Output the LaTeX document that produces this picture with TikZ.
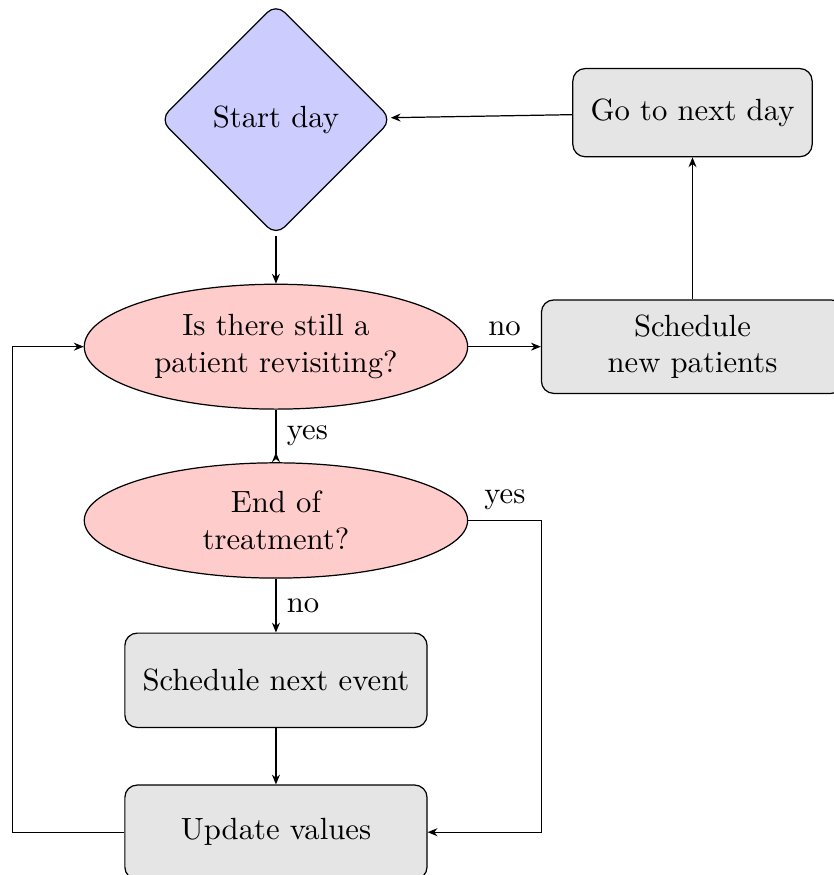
\documentclass[tikz,border=0pt]{standalone}
\usepackage{amsfonts, amsthm, amsmath}
\usepackage{tikz}
\usepackage{amssymb}
\usepackage{color}
\usetikzlibrary{shapes.geometric, arrows.meta}

\begin{document}
\begin{tikzpicture}[>={Stealth[length=3.2pt,width=2.6pt]},
  daybox/.style={diamond, draw, fill=blue!20, rounded corners, minimum width=2.66cm, minimum height=2.66cm, inner sep=0pt},
  askbox/.style={ellipse, draw, fill=red!20, align=center, minimum width=4.39cm, inner sep=0pt},
  workbox/.style={rectangle, draw, fill=gray!20, rounded corners, align=center, minimum width=3.46cm, minimum height=1.08cm}]
\useasboundingbox (0,0) rectangle (9.54,-10.02);
%% nodes
\node[daybox] (start) at (3.16,-1.37) {Start day};
\node[workbox, minimum width=2.74cm, minimum height=1.01cm] (nextday) at (7.93,-1.29) {Go to next day};

\node[askbox, minimum height=1.43cm] (revisit) at (3.16,-3.97) {Is there still a\\ patient revisiting?};
\node[workbox, minimum height=1.07cm] (newpat) at (7.93,-3.97) {Schedule\\ new patients};

\node[askbox, minimum height=1.32cm] (endtreat) at (3.16,-5.96) {End of\\ treatment?};
\node[workbox] (nextevent) at (3.16,-7.79) {Schedule next event};
\node[workbox] (update) at (3.16,-9.53) {Update values};

\coordinate (loopl) at (0.14,0);
\coordinate (loopr) at (6.20,0);
%% edges
\draw[->] (start) to (revisit);
\draw[->] (nextday) to (start);
\draw[->] (revisit) to node[above] {no} (newpat);
\draw[->] (newpat) to (nextday);

\draw[-{Stealth[length=3.2pt,width=2.6pt,reversed]}] (revisit) to node[right] {yes} (endtreat);
\draw[->] (endtreat) to node[right] {no} (nextevent);
\draw[->] (nextevent) to (update);

\draw[->] (endtreat.east) -- node[above] {yes} (endtreat.east -| loopr) |- (update.east);
\draw[->] (update.west) -- (update.west -| loopl) |- (revisit.west);
\end{tikzpicture}
\end{document}
